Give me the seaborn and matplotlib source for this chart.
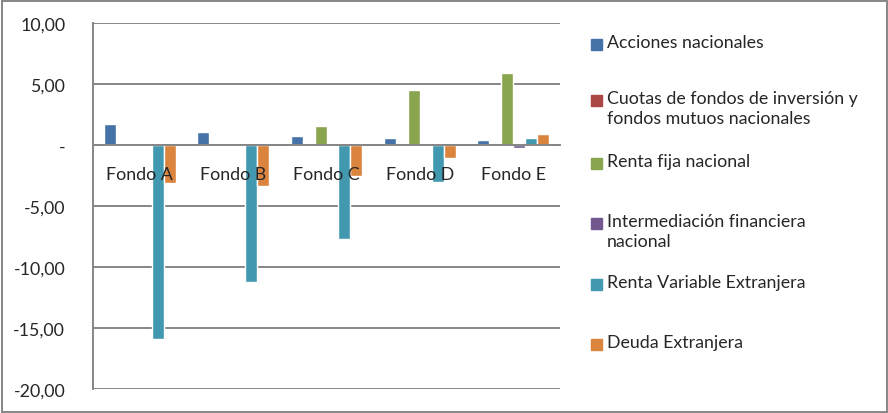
import pandas as pd
import numpy as np
import matplotlib.pyplot as plt
import seaborn as sns
from matplotlib.ticker import FuncFormatter, FixedLocator
from matplotlib.patches import Rectangle

# Datos
fondos = ["Fondo A", "Fondo B", "Fondo C", "Fondo D", "Fondo E"]
tipos = [
    "Acciones nacionales",
    "Cuotas de fondos de inversión y\nfondos mutuos nacionales",
    "Renta fija nacional",
    "Intermediación financiera\nnacional",
    "Renta Variable Extranjera",
    "Deuda Extranjera",
]
acciones = [1.72, 1.10, 0.74, 0.57, 0.40]
cuotas = [0.0, 0.0, 0.0, 0.0, 0.0]
renta_fija = [0.0, 0.15, 1.56, 4.50, 5.90]
intermediacion = [0.0, 0.0, 0.0, 0.0, -0.22]
renta_variable_ext = [-15.9, -11.2, -7.7, -3.0, 0.57]
deuda_ext = [-3.1, -3.4, -2.5, -1.07, 0.90]
colores = ["#4572A7", "#AA4643", "#89A54E", "#71588F", "#4198AF", "#DB843D"]

series = [acciones, cuotas, renta_fija, intermediacion, renta_variable_ext, deuda_ext]
df = pd.DataFrame(
    [(f, t, v) for t, vals in zip(tipos, series) for f, v in zip(fondos, vals)],
    columns=["fondo", "tipo", "valor"],
)

sns.set_style("white")
plt.rcParams["font.family"] = ["Lato", "DejaVu Sans"]
gris = "#868686"

fig = plt.figure(figsize=(8.88, 4.14), dpi=100)
ax = fig.add_axes([93 / 888, 24 / 414, 467 / 888, 366 / 414])

sns.barplot(data=df, x="fondo", y="valor", hue="tipo", hue_order=tipos,
            palette=dict(zip(tipos, colores)), width=0.77, saturation=1,
            ax=ax, legend=False)

ax.set_ylim(-20, 10)
ax.set_xlim(-0.5, len(fondos) - 0.5)
ax.set_yticks(np.arange(-20, 10.1, 5))
ax.yaxis.set_major_formatter(FuncFormatter(
    lambda v, p: "-" if abs(v) < 1e-9 else f"{v:.2f}".replace(".", ",")))
ax.yaxis.grid(True, color=gris, lw=1.4)
ax.set_axisbelow(True)
# las etiquetas de los fondos van encima de las barras
ax.xaxis.set_zorder(3)

# eje x en cero: marcas entre categorias, etiquetas centradas
ax.spines["bottom"].set_position(("data", 0))
ax.xaxis.set_major_locator(FixedLocator(np.arange(-0.5, len(fondos), 1)))
ax.xaxis.set_major_formatter(FuncFormatter(lambda v, p: ""))
ax.xaxis.set_minor_locator(FixedLocator(np.arange(len(fondos))))
ax.set_xticklabels(fondos, minor=True)
ax.tick_params(axis="x", which="major", direction="out", length=5, width=1.4, color=gris)
ax.tick_params(axis="x", which="minor", length=0, pad=15, labelsize=12.8)
ax.tick_params(axis="y", direction="out", length=4, width=1.4, color=gris,
               pad=16, labelsize=12.8)
ax.set_xlabel("")
ax.set_ylabel("")

for s in ["top", "right"]:
    ax.spines[s].set_visible(False)
for s in ["left", "bottom"]:
    ax.spines[s].set_color(gris)
    ax.spines[s].set_linewidth(1.4)
ax.spines["bottom"].set_zorder(3)

# leyenda a la derecha
tops = [37, 93, 156, 216, 277, 337]
for t, c, y in zip(tipos, colores, tops):
    fig.patches.append(Rectangle((591 / 888, 1 - (y + 14) / 414), 11 / 888, 11 / 414,
                                 transform=fig.transFigure, color=c))
    fig.text(607 / 888, 1 - (y - 2) / 414, t, va="top", ha="left",
             fontsize=12.8, linespacing=1.3)

fig.patches.append(Rectangle((1.5 / 888, 1.5 / 414), 885 / 888, 411 / 414,
                             transform=fig.transFigure, fill=False,
                             edgecolor=gris, lw=1.4))

fig.savefig("out.png", dpi=100)
